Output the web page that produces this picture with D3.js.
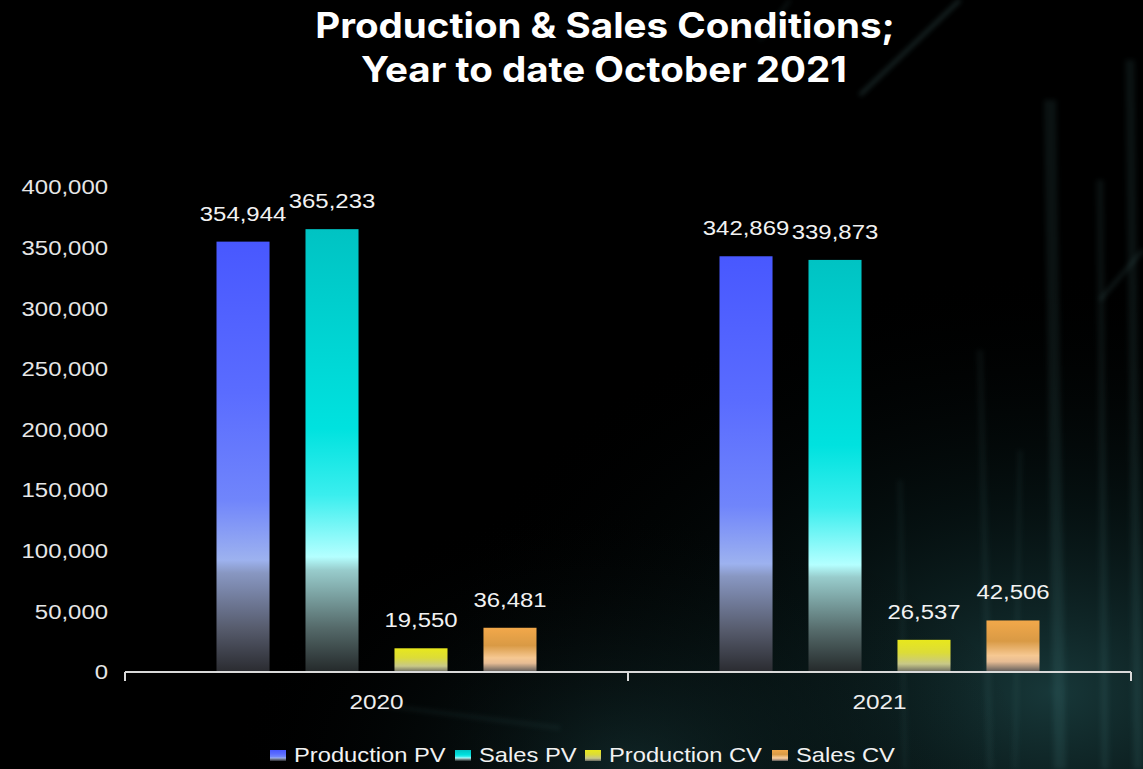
<!DOCTYPE html>
<html>
<head>
<meta charset="utf-8">
<script src="https://cdn.jsdelivr.net/npm/d3@7.9.0/dist/d3.min.js"></script>
<style>
  html, body { margin: 0; padding: 0; background: #000; }
  svg { display: block; }
</style>
</head>
<body>
<svg id="chart" width="1143" height="769"></svg>
<script>
// data
const years = ['2020', '2021'];
const seriesNames = ['Production PV', 'Sales PV', 'Production CV', 'Sales CV'];
const productionPV = [354944, 342869];
const salesPV = [365233, 339873];
const productionCV = [19550, 26537];
const salesCV = [36481, 42506];
const yTicks = [0, 50000, 100000, 150000, 200000, 250000, 300000, 350000, 400000];

const seriesValues = [productionPV, salesPV, productionCV, salesCV];

const W = 1143, H = 769;
const FONT = 'Liberation Sans, Arial, sans-serif';
const svg = d3.select('#chart');
const defs = svg.append('defs');

// the source image is stretched sideways, so text gets a horizontal scale
const stretch = (sx) => function () {
  const t = d3.select(this);
  const x = +t.attr('x'), y = +t.attr('y');
  t.attr('x', null).attr('y', null).attr('transform', `translate(${x},${y}) scale(${sx},1)`);
};

// backdrop: dark with teal glow toward the lower right
const glow = defs.append('radialGradient').attr('id', 'glow')
  .attr('cx', '0.92').attr('cy', '0.9').attr('r', '0.55');
glow.append('stop').attr('offset', '0').attr('stop-color', '#2f6f72').attr('stop-opacity', 0.5);
glow.append('stop').attr('offset', '0.45').attr('stop-color', '#123536').attr('stop-opacity', 0.3);
glow.append('stop').attr('offset', '1').attr('stop-color', '#000').attr('stop-opacity', 0);
const glow2 = defs.append('radialGradient').attr('id', 'glow2')
  .attr('cx', '0.55').attr('cy', '1').attr('r', '0.35');
glow2.append('stop').attr('offset', '0').attr('stop-color', '#1d4446').attr('stop-opacity', 0.5);
glow2.append('stop').attr('offset', '1').attr('stop-color', '#000').attr('stop-opacity', 0);
defs.append('filter').attr('id', 'soft').append('feGaussianBlur').attr('stdDeviation', 2.5);

svg.append('rect').attr('width', W).attr('height', H).attr('fill', '#000');
svg.append('rect').attr('width', W).attr('height', H).attr('fill', 'url(#glow)');
svg.append('rect').attr('width', W).attr('height', H).attr('fill', 'url(#glow2)');

// faint light streaks
const streaks = [
  [1050, 100, 1060, 769, 0.08, 12], [1100, 180, 1105, 769, 0.07, 7],
  [980, 350, 990, 769, 0.06, 6], [900, 480, 905, 769, 0.05, 5],
  [1130, 60, 1138, 769, 0.08, 9], [1020, 450, 1015, 769, 0.06, 4],
  [960, 0, 860, 95, 0.22, 3], [790, 0, 760, 40, 0.15, 2],
  [1143, 250, 1100, 300, 0.14, 3], [380, 705, 560, 728, 0.08, 3]
];
svg.append('g').attr('filter', 'url(#soft)').selectAll('line').data(streaks).join('line')
  .attr('x1', d => d[0]).attr('y1', d => d[1])
  .attr('x2', d => d[2]).attr('y2', d => d[3])
  .attr('stroke', '#8fe0e0')
  .attr('stroke-opacity', d => d[4])
  .attr('stroke-width', d => d[5]);

// bar gradients
const gradStops = [
  [[0, '#4858ff'], [0.35, '#5a6cff'], [0.6, '#7085fb'], [0.74, '#9db2ef'], [0.77, '#8897c2'], [0.9, '#565b6c'], [1, '#2a2b30']],
  [[0, '#00c3c3'], [0.45, '#00e2df'], [0.6, '#3aeeee'], [0.74, '#b4ffff'], [0.77, '#98cccc'], [0.9, '#556a6a'], [1, '#24292a']],
  [[0, '#e8e81c'], [0.4, '#dcdc38'], [0.75, '#c8c888'], [1, '#6a6a60']],
  [[0, '#f2a84a'], [0.4, '#d99a45'], [0.68, '#f6c892'], [0.8, '#e6bc94'], [1, '#5a5858']]
];
gradStops.forEach((stops, i) => {
  const g = defs.append('linearGradient').attr('id', 'bar' + i)
    .attr('x1', 0).attr('y1', 0).attr('x2', 0).attr('y2', 1);
  stops.forEach(s => g.append('stop').attr('offset', s[0]).attr('stop-color', s[1]));
});

// scales
const x0 = d3.scaleBand().domain(years).range([125, 1131]).paddingInner(0).paddingOuter(0);
const x1 = d3.scaleBand().domain(seriesNames).range([91.5, 411.5]).paddingInner(0.404).paddingOuter(0);
const y = d3.scaleLinear().domain([0, 400000]).range([672, 187]);
const fmt = d3.format(',');

// title
const title = svg.append('g').attr('font-family', 'Inter, sans-serif').attr('font-weight', 700)
  .attr('font-size', 35).attr('fill', '#fff').attr('text-anchor', 'middle');
title.append('text').attr('x', 605).attr('y', 38).text('Production & Sales Conditions;').each(stretch(1.1));
title.append('text').attr('x', 604).attr('y', 82).text('Year to date October 2021').each(stretch(1.1));

// y axis labels
svg.append('g').selectAll('text').data(yTicks).join('text')
  .attr('x', 108).attr('y', d => y(d))
  .attr('dy', '0.35em')
  .attr('text-anchor', 'end')
  .attr('font-family', FONT)
  .attr('font-size', 21)
  .attr('fill', '#e6e6e6')
  .text(d => fmt(d))
  .each(stretch(1.14));

// bars
const groups = svg.append('g').selectAll('g').data(years).join('g')
  .attr('transform', d => `translate(${x0(d)},0)`);

const cells = groups.selectAll('g').data((yr, yi) => seriesNames.map((s, si) => ({ s, si, v: seriesValues[si][yi] })))
  .join('g');

cells.append('rect')
  .attr('x', d => x1(d.s))
  .attr('y', d => y(d.v))
  .attr('width', x1.bandwidth())
  .attr('height', d => y(0) - y(d.v))
  .attr('fill', d => `url(#bar${d.si})`);

cells.append('text')
  .attr('x', d => x1(d.s) + x1.bandwidth() / 2)
  .attr('y', d => y(d.v) - 21)
  .attr('text-anchor', 'middle')
  .attr('font-family', FONT)
  .attr('font-size', 21)
  .attr('fill', '#f2f2f2')
  .text(d => fmt(d.v))
  .each(stretch(1.14));

// x axis
const xAxis = svg.append('g').attr('transform', 'translate(0,672)');
xAxis.append('line').attr('x1', 125).attr('x2', 1131).attr('y1', 0).attr('y2', 0)
  .attr('stroke', '#d9d9d9').attr('stroke-width', 2);
const bounds = years.map(d => x0(d)).concat([x0.range()[1]]);
xAxis.selectAll('line.tk').data(bounds).join('line').attr('class', 'tk')
  .attr('x1', d => d).attr('x2', d => d).attr('y1', 0).attr('y2', 9)
  .attr('stroke', '#d9d9d9').attr('stroke-width', 2);
xAxis.selectAll('text').data(years).join('text')
  .attr('x', d => x0(d) + x0.bandwidth() / 2).attr('y', 37)
  .attr('text-anchor', 'middle')
  .attr('font-family', FONT).attr('font-size', 21).attr('fill', '#eee')
  .text(d => d)
  .each(stretch(1.16));

// legend
const legendX = [270, 455, 585, 772];
const legend = svg.append('g').selectAll('g').data(seriesNames).join('g')
  .attr('transform', (d, i) => `translate(${legendX[i]},0)`);
legend.append('rect').attr('x', 0).attr('y', 750).attr('width', 16).attr('height', 11)
  .attr('fill', (d, i) => `url(#bar${i})`);
legend.append('text').attr('x', 24).attr('y', 762)
  .attr('font-family', FONT)
  .attr('font-size', 21).attr('fill', '#f2f2f2')
  .text(d => d)
  .each(stretch(1.13));
</script>
</body>
</html>
